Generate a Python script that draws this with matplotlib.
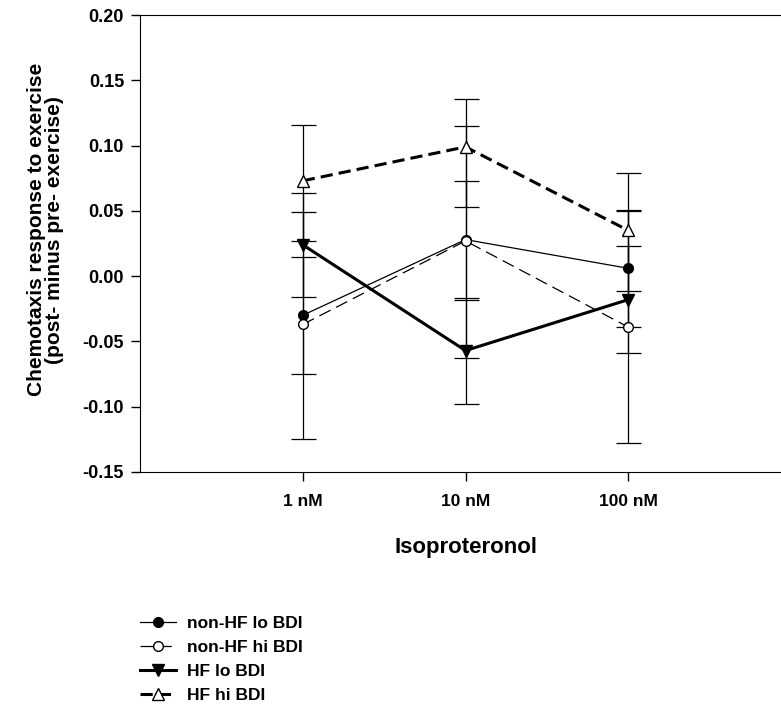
import matplotlib
matplotlib.use('Agg')
import matplotlib.pyplot as plt
from matplotlib.lines import Line2D

plt.rcParams['font.family'] = ['Liberation Sans', 'DejaVu Sans']
plt.rcParams['font.weight'] = 'bold'

# data
concentrations = ['1 nM', '10 nM', '100 nM']
x = [1, 2, 3]

nonhf_lo = [-0.030, 0.028, 0.006]
nonhf_lo_err_lo = [0.045, 0.046, 0.045]
nonhf_lo_err_hi = [0.045, 0.045, 0.045]

nonhf_hi = [-0.037, 0.027, -0.039]
nonhf_hi_err_lo = [0.088, 0.090, 0.089]
nonhf_hi_err_hi = [0.086, 0.088, 0.089]

hf_lo = [0.024, -0.057, -0.018]
hf_lo_err_lo = [0.040, 0.041, 0.041]
hf_lo_err_hi = [0.040, 0.040, 0.041]

hf_hi = [0.073, 0.099, 0.035]
hf_hi_err_lo = [0.046, 0.046, 0.046]
hf_hi_err_hi = [0.043, 0.037, 0.044]

labels = ['non-HF lo BDI', 'non-HF hi BDI', 'HF lo BDI', 'HF hi BDI']

# style per series
styles = [
    dict(lw=0.9, ls='-', marker='o', ms=7, mfc='black'),
    dict(lw=0.9, ls=(0, (10, 5)), marker='o', ms=7, mfc='white'),
    dict(lw=2.2, ls='-', marker='v', ms=8, mfc='black'),
    dict(lw=2.2, ls=(0, (4, 2)), marker='^', ms=8, mfc='white'),
]

fig = plt.figure(figsize=(7.81, 7.07), dpi=100)
ax = fig.add_axes([140/781, 235/707, 651/781, 457/707])

series = [(nonhf_lo, nonhf_lo_err_lo, nonhf_lo_err_hi),
          (nonhf_hi, nonhf_hi_err_lo, nonhf_hi_err_hi),
          (hf_lo, hf_lo_err_lo, hf_lo_err_hi),
          (hf_hi, hf_hi_err_lo, hf_hi_err_hi)]

handles = []
for (y, elo, ehi), st, lab in zip(series, styles, labels):
    ax.errorbar(x, y, yerr=[elo, ehi], color='black', elinewidth=0.9,
                capsize=9, capthick=0.9, mec='black', zorder=3, **st)
    handles.append(Line2D([], [], color='black', mec='black', **st))

ax.set_xlim(0, 4)
ax.set_ylim(-0.15, 0.20)
ax.set_xticks(x)
ax.set_xticklabels(concentrations, fontsize=12.5, fontweight='bold')
ax.set_yticks([-0.15, -0.10, -0.05, 0.00, 0.05, 0.10, 0.15, 0.20])
ax.set_yticklabels(['%.2f' % v for v in ax.get_yticks()], fontsize=13, fontweight='bold')
ax.tick_params(direction='out', length=6.5, width=1)
ax.tick_params(axis='x', pad=9.5)
ax.tick_params(axis='y', pad=5)

ax.set_xlabel('Isoproteronol', fontsize=16, fontweight='bold', labelpad=20)
ax.set_ylabel('Chemotaxis response to exercise\n(post- minus pre- exercise)',
              fontsize=15, fontweight='bold', linespacing=0.95)
ax.yaxis.set_label_coords(-0.117, 0.53)

fig.legend(handles, labels, loc='upper left', bbox_to_anchor=(140/781, 1 - 616/707),
           frameon=False, fontsize=12.5, handlelength=2.1, handletextpad=0.6,
           labelspacing=0.5, borderaxespad=0, borderpad=0)

fig.savefig('out.png', dpi=100)
